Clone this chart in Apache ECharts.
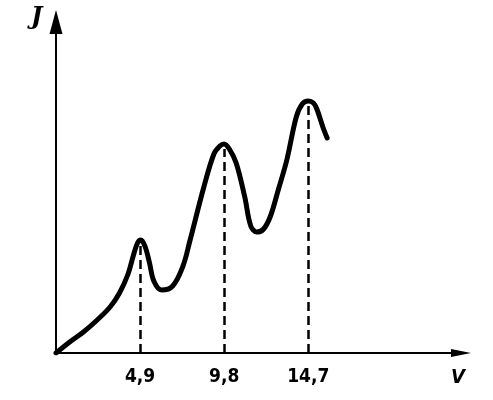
<!DOCTYPE html>
<html><head><meta charset="utf-8">
<script src="https://cdn.jsdelivr.net/npm/echarts@6/dist/echarts.min.js"></script>
<style>html,body{margin:0;padding:0;background:#fff}#c{width:493px;height:400px}</style>
</head><body><div id="c"></div>
<script>
// Franck–Hertz curve: voltage V (volts) vs current J (arbitrary units)
const voltage = [0, 0.8, 1.6, 2.4, 3.15, 3.7, 4.2, 4.5, 4.75, 4.95, 5.2, 5.45, 5.7, 6.15, 6.8, 7.4, 7.8, 8.6, 9.2, 9.55, 9.8, 10.1, 10.5, 11.0, 11.35, 11.7, 12.1, 12.5, 12.95, 13.45, 14.0, 14.35, 14.7, 15.0, 15.2, 15.55, 15.8];
const current = [0, 11, 21, 33, 46, 60, 79, 97, 110, 113, 106, 90, 72, 63, 67, 87, 112, 165, 199, 207, 209, 204, 190, 156, 127, 121, 124, 137, 163, 193, 236, 249, 252, 250, 244, 226, 215];
const peakV = [4.9, 9.8, 14.7];
const peakI = [108, 204, 247];
const tickLabels = ['4,9', '9,8', '14,7'];

const chart = echarts.init(document.getElementById('c'), null, {renderer: 'canvas'});
const markData = peakV.map((v, i) => [{coord: [v, 0]}, {coord: [v, peakI[i]]}]);
chart.setOption({
  backgroundColor: '#fff',
  animation: false,
  grid: {left: 56, right: 32, top: 22, bottom: 47, containLabel: false},
  xAxis: {
    type: 'value', min: 0, max: 23.6,
    axisLine: {show: true, onZero: false, symbol: ['none', 'triangle'], symbolSize: [8, 20], lineStyle: {color: '#000', width: 2}},
    axisTick: {show: false},
    splitLine: {show: false},
    axisLabel: {
      customValues: peakV,
      formatter: v => tickLabels[peakV.indexOf(v)] || '',
      color: '#000', fontFamily: 'DejaVu Sans Condensed', fontWeight: 'bold', fontSize: 19, margin: 15
    }
  },
  yAxis: {
    type: 'value', min: 0, max: 331,
    axisLine: {show: true, onZero: false, symbol: ['none', 'triangle'], symbolSize: [13, 24], lineStyle: {color: '#000', width: 2}},
    axisTick: {show: false},
    splitLine: {show: false},
    axisLabel: {show: false}
  },
  graphic: [
    {type: 'text', left: 451, top: 368, style: {text: 'V', font: 'italic bold 20px "DejaVu Sans Condensed"', fill: '#000'}},
    {type: 'text', left: 31, top: 6, style: {text: 'J', font: 'italic bold 24px "DejaVu Serif"', fill: '#000'}}
  ],
  series: [{
    type: 'line',
    data: voltage.map((v, i) => [v, current[i]]),
    smooth: 0.35,
    showSymbol: false,
    lineStyle: {color: '#000', width: 5, cap: 'round', join: 'round'},
    markLine: {
      silent: true, symbol: ['none', 'none'], label: {show: false},
      lineStyle: {color: '#000', width: 2.5, type: [9, 5]},
      data: markData
    }
  }]
});
</script></body></html>
